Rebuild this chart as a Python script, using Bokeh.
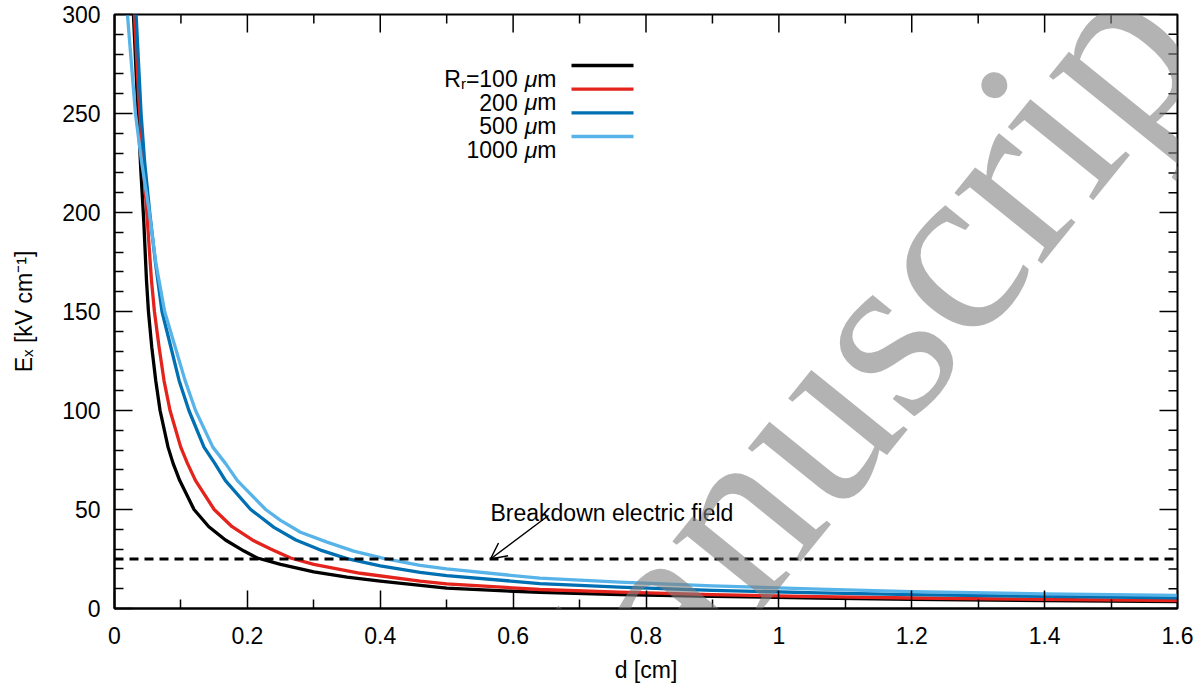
import math
from bokeh.plotting import figure
from bokeh.models import Range1d, FixedTicker, Label, Span, Arrow, OpenHead
from bokeh.embed import file_html
from bokeh.resources import INLINE

# ---------------- data ----------------
d_100 = [0.0285, 0.034, 0.0395, 0.044, 0.0481, 0.0511, 0.0561, 0.0621, 0.0686, 0.0806, 0.0882,
         0.0982, 0.1197, 0.142, 0.167, 0.195, 0.215, 0.250, 0.300, 0.350, 0.400, 0.500, 0.640,
         0.760, 0.900, 1.060, 1.200, 1.400, 1.600]
E_100 = [300, 260, 222, 196, 166, 150, 132, 115, 100, 81.5, 73.3,
         64.6, 50, 41.3, 34.6, 29, 25.5, 22.3, 18.5, 15.8, 13.8, 10.3, 8.1,
         7.0, 6.1, 5.3, 4.6, 4.0, 3.5]

d_200 = [0.0300, 0.0365, 0.0425, 0.0486, 0.0556, 0.0601, 0.0671, 0.0746, 0.0836, 0.0997, 0.1098,
         0.122, 0.150, 0.177, 0.2075, 0.235, 0.265, 0.300, 0.370, 0.460, 0.500, 0.640, 0.760,
         0.900, 1.060, 1.200, 1.400, 1.600]
E_200 = [300, 258, 228, 200, 166, 150, 132, 115, 100, 81.5, 73.3,
         64.6, 50, 41.3, 34.6, 30, 25.5, 22.3, 17.8, 13.8, 12.4, 9.6, 8.3,
         7.0, 6.0, 5.3, 4.6, 4.0]

d_500 = [0.0325, 0.0400, 0.0455, 0.0530, 0.0615, 0.0715, 0.0847, 0.0972, 0.112, 0.1347, 0.151,
         0.167, 0.205, 0.240, 0.273, 0.310, 0.350, 0.400, 0.460, 0.500, 0.640, 0.760, 0.900,
         1.060, 1.200, 1.400, 1.600]
E_500 = [300, 250, 225, 200, 175, 150, 132.2, 115.2, 100, 81.5, 73.3,
         64.6, 50, 41, 34.6, 29.5, 25.2, 21.5, 18.2, 16.6, 12.6, 10.8, 9.2,
         7.9, 7.0, 6.1, 5.4]

d_1000 = [0.0195, 0.0255, 0.0315, 0.041, 0.0525, 0.062, 0.0755, 0.0912, 0.1062, 0.122, 0.148,
          0.167, 0.185, 0.2275, 0.250, 0.280, 0.320, 0.360, 0.405, 0.460, 0.500, 0.640, 0.760,
          0.900, 1.060, 1.200, 1.400, 1.600]
E_1000 = [300, 275, 250, 225, 200, 175, 150, 132.2, 115.2, 100, 81.5,
          73.3, 64.6, 50, 44.5, 38.5, 33.5, 29, 25.3, 21.8, 20, 15.3, 13.3,
          11.4, 9.8, 8.5, 7.4, 6.6]

radius_labels = ["100", "200", "500", "1000"]
series_d = [d_100, d_200, d_500, d_1000]
series_E = [E_100, E_200, E_500, E_1000]
colors = ["#000000", "#e3231c", "#0070b2", "#58b4e8"]

breakdown_E = 25
breakdown_text = "Breakdown electric field"

x_ticks = [0, 0.2, 0.4, 0.6, 0.8, 1.0, 1.2, 1.4, 1.6]
x_tick_labels = ["0", "0.2", "0.4", "0.6", "0.8", "1", "1.2", "1.4", "1.6"]
x_minor = [0.1, 0.3, 0.5, 0.7, 0.9, 1.1, 1.3, 1.5]
y_ticks = [0, 50, 100, 150, 200, 250, 300]
y_tick_labels = ["0", "50", "100", "150", "200", "250", "300"]
y_minor = [10, 20, 30, 40, 60, 70, 80, 90, 110, 120, 130, 140, 160, 170, 180, 190,
           210, 220, 230, 240, 260, 270, 280, 290]

x_title = "d [cm]"
y_title = "E\u2093 [kV cm\u207b\u00b9]"

XMIN, XMAX, YMIN, YMAX = 0, 1.6, 0, 300

# ---------------- layout ----------------
W, H = 1202, 686
FL, FR, FT, FB = 114, 1177, 14, 608
FONT = "Liberation Sans"
FS = 23
FSS = 15
MAJ, MIN_ = 18, 9

def sx(px):
    return XMIN + (px - FL) / (FR - FL) * (XMAX - XMIN)

def sy(py):
    return YMIN + (FB - py) / (FB - FT) * (YMAX - YMIN)

AW = {'0': .556, '1': .556, '2': .556, '5': .556, ' ': .278, '=': .584, 'm': .833,
      'R': .722, 'r': .333, 'μ': .576}

def tw(s, size):
    return sum(AW[c] for c in s) * size

p = figure(width=W, height=H, x_range=Range1d(XMIN, XMAX), y_range=Range1d(YMIN, YMAX),
           output_backend="svg", toolbar_location=None,
           min_border_left=FL, min_border_right=W - FR, min_border_top=FT, min_border_bottom=H - FB)
p.xgrid.visible = False
p.ygrid.visible = False
p.outline_line_color = "black"
p.outline_line_width = 2
p.background_fill_color = "white"
p.border_fill_color = "white"

def style_axis(ax, ticks, minor, labels):
    ax.ticker = FixedTicker(ticks=ticks, minor_ticks=minor)
    ax.major_tick_in = MAJ
    ax.major_tick_out = 0
    ax.minor_tick_in = MIN_
    ax.minor_tick_out = 0
    ax.major_tick_line_width = 1.5
    ax.minor_tick_line_width = 1.5
    ax.major_tick_line_color = "black"
    ax.minor_tick_line_color = "black"
    ax.axis_line_width = 2
    ax.axis_line_color = "black"
    ax.major_label_text_font = FONT
    ax.major_label_text_color = "black"
    ax.major_label_text_font_size = f"{FS}px"
    ax.major_label_overrides = dict(zip(ticks, labels))
    ax.axis_label_text_font = FONT
    ax.axis_label_text_font_size = f"{FS}px"
    ax.axis_label_text_font_style = "normal"
    ax.axis_label_text_color = "black"

xa = p.xaxis[0]
style_axis(xa, x_ticks, x_minor, x_tick_labels)
xa.major_label_standoff = 18
xa.axis_label = x_title
xa.axis_label_standoff = 10

ya = p.yaxis[0]
style_axis(ya, y_ticks, y_minor, y_tick_labels)
ya.major_label_standoff = 14
ya.axis_label = y_title
ya.axis_label_standoff = 22

# mirrored inward ticks on the top and right edges (from the tick lists)
ylen_maj = MAJ * (YMAX - YMIN) / (FB - FT)
ylen_min = MIN_ * (YMAX - YMIN) / (FB - FT)
xlen_maj = MAJ * (XMAX - XMIN) / (FR - FL)
xlen_min = MIN_ * (XMAX - XMIN) / (FR - FL)
p.segment(x0=x_ticks, y0=[YMAX] * len(x_ticks), x1=x_ticks, y1=[YMAX - ylen_maj] * len(x_ticks),
          line_color="black", line_width=1.5)
p.segment(x0=x_minor, y0=[YMAX] * len(x_minor), x1=x_minor, y1=[YMAX - ylen_min] * len(x_minor),
          line_color="black", line_width=1.5)
p.segment(x0=[XMAX] * len(y_ticks), y0=y_ticks, x1=[XMAX - xlen_maj] * len(y_ticks), y1=y_ticks,
          line_color="black", line_width=1.5)
p.segment(x0=[XMAX] * len(y_minor), y0=y_minor, x1=[XMAX - xlen_min] * len(y_minor), y1=y_minor,
          line_color="black", line_width=1.5)

# ---------------- curves ----------------
for d, E, c in zip(series_d, series_E, colors):
    p.line(d, E, line_color=c, line_width=3.3, line_join="round")

# breakdown field
p.add_layout(Span(location=breakdown_E, dimension="width", line_color="black",
                  line_width=3, line_dash="9 6"))
p.add_layout(Arrow(end=OpenHead(size=16, line_width=1.5, line_color="black"),
                   x_start=sx(548), y_start=sy(515), x_end=sx(490), y_end=breakdown_E,
                   line_width=1.5, line_color="black"))
p.add_layout(Label(x=sx(490), y=sy(512), text=breakdown_text, text_font=FONT,
                   text_font_size=f"{FS}px", text_align="left", text_baseline="alphabetic",
                   text_color="black"))

# ---------------- legend (labels left of line samples) ----------------
LEG_RIGHT = 556
LEG_Y0, LEG_DY = 65, 23.67
for i, (lab, c) in enumerate(zip(radius_labels, colors)):
    ly = LEG_Y0 + i * LEG_DY
    base = ly + 13
    p.add_layout(Arrow(end=None, x_start=sx(571), y_start=sy(ly), x_end=sx(633), y_end=sy(ly),
                       line_color=c, line_width=3.3))
    r = LEG_RIGHT
    p.add_layout(Label(x=sx(r), y=sy(base), text="m", text_font=FONT, text_font_size=f"{FS}px",
                       text_align="right", text_baseline="alphabetic", text_color="black"))
    r -= tw("m", FS)
    p.add_layout(Label(x=sx(r), y=sy(base), text="μ", text_font=FONT, text_font_size=f"{FS}px",
                       text_font_style="italic", text_align="right", text_baseline="alphabetic",
                       text_color="black"))
    r -= tw("μ", FS) + tw(" ", FS)
    t = ("=" if i == 0 else "") + lab
    p.add_layout(Label(x=sx(r), y=sy(base), text=t, text_font=FONT, text_font_size=f"{FS}px",
                       text_align="right", text_baseline="alphabetic", text_color="black"))
    if i == 0:
        r -= tw(t, FS)
        p.add_layout(Label(x=sx(r), y=sy(base + 4.5), text="r", text_font=FONT,
                           text_font_size=f"{FSS}px", text_align="right",
                           text_baseline="alphabetic", text_color="black"))
        r -= tw("r", FSS)
        p.add_layout(Label(x=sx(r), y=sy(base), text="R", text_font=FONT,
                           text_font_size=f"{FS}px", text_align="right",
                           text_baseline="alphabetic", text_color="black"))

# ---------------- watermark ----------------
p.add_layout(Label(x=sx(486), y=sy(818), text="Manuscript", angle=math.radians(51),
                   text_font="Liberation Serif", text_font_size="245px", text_align="left",
                   text_baseline="alphabetic", text_color="#808080", text_alpha=0.6))

open("out.html", "w").write(file_html(p, INLINE))
